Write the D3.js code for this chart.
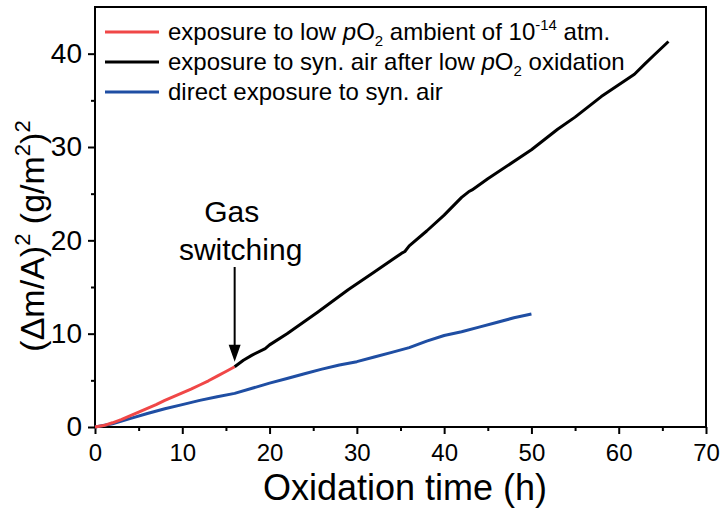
<!DOCTYPE html>
<html>
<head>
<meta charset="utf-8">
<script src="https://cdn.jsdelivr.net/npm/d3@7"></script>
<style>
  body { margin: 0; background: #fff; }
  svg { font-family: "Liberation Sans", Arial, sans-serif; }
</style>
</head>
<body>
<div id="chart"></div>
<script>
// data
const redTime = [0, 1, 2, 3, 4, 5, 6, 7, 8, 9, 10, 11, 12, 13, 14, 15, 16];
const redMass = [0, 0.15, 0.45, 0.8, 1.2, 1.6, 2.0, 2.4, 2.85, 3.25, 3.65, 4.05, 4.5, 4.95, 5.45, 5.95, 6.45];

const blackTime = [16, 17, 18, 19.5, 20, 22, 25.5, 29, 32, 34, 35.1, 35.5, 36, 38, 40, 42, 42.8, 43.2, 45, 50, 53, 55, 58, 61.8, 63, 64, 65.7];
const blackMass = [6.45, 7.15, 7.7, 8.4, 8.8, 10.0, 12.3, 14.7, 16.6, 17.9, 18.6, 18.8, 19.4, 21.0, 22.7, 24.6, 25.2, 25.4, 26.6, 29.7, 31.9, 33.2, 35.4, 37.8, 38.9, 39.8, 41.3];

const blueTime = [0, 2, 4, 6, 8, 10, 12, 14, 16, 18, 20, 22, 24, 26, 28, 30, 32, 34, 36, 38, 40, 42, 44, 46, 48, 50];
const blueMass = [0, 0.35, 0.9, 1.45, 1.95, 2.4, 2.85, 3.25, 3.6, 4.15, 4.7, 5.2, 5.7, 6.2, 6.65, 7.0, 7.5, 8.0, 8.5, 9.2, 9.8, 10.2, 10.7, 11.2, 11.7, 12.1];

const xTicks = [0, 10, 20, 30, 40, 50, 60, 70];
const yTicks = [0, 10, 20, 30, 40];

const svgWidth = 722, svgHeight = 512;
const margin = { top: 7, right: 16, bottom: 85, left: 95 };
const width = svgWidth - margin.left - margin.right;
const height = svgHeight - margin.top - margin.bottom;

const svg = d3.select("#chart").append("svg")
  .attr("width", svgWidth)
  .attr("height", svgHeight);

const g = svg.append("g")
  .attr("transform", "translate(" + margin.left + "," + margin.top + ")");

const x = d3.scaleLinear().domain([0, 70]).range([0, width]);
const y = d3.scaleLinear().domain([0, 45]).range([height, 0]);

//////////
// AXES //
//////////

// minor ticks first
g.append("g")
  .attr("transform", "translate(0," + height + ")")
  .call(d3.axisBottom(x).tickValues(d3.range(5, 70, 10)).tickSize(4).tickFormat(""))
  .call(a => a.select(".domain").remove())
  .selectAll("line").attr("stroke-width", 2);

g.append("g")
  .call(d3.axisLeft(y).tickValues(d3.range(5, 45, 10)).tickSize(4).tickFormat(""))
  .call(a => a.select(".domain").remove())
  .selectAll("line").attr("stroke-width", 2);

const xAxis = g.append("g")
  .attr("transform", "translate(0," + height + ")")
  .call(d3.axisBottom(x).tickValues(xTicks).tickSize(7).tickPadding(10));
xAxis.select(".domain").remove();
xAxis.selectAll("line").attr("stroke-width", 2);
xAxis.selectAll("text").attr("font-size", 24).attr("fill", "#000")
  .style("font-family", "Liberation Sans, Arial, sans-serif");

const yAxis = g.append("g")
  .call(d3.axisLeft(y).tickValues(yTicks).tickSize(7).tickPadding(6));
yAxis.select(".domain").remove();
yAxis.selectAll("line").attr("stroke-width", 2);
yAxis.selectAll("text").attr("font-size", 28).attr("fill", "#000")
  .style("font-family", "Liberation Sans, Arial, sans-serif");

// frame
g.append("rect")
  .attr("width", width)
  .attr("height", height)
  .attr("fill", "none")
  .attr("stroke", "#000")
  .attr("stroke-width", 2);

// axis titles
svg.append("text")
  .attr("x", 263)
  .attr("y", 500)
  .attr("font-size", 36)
  .text("Oxidation time (h)");

const yl = svg.append("text")
  .attr("transform", "translate(44,236) rotate(-90)")
  .attr("text-anchor", "middle")
  .attr("font-size", 34);
yl.append("tspan").text("(\u0394m/A)");
yl.append("tspan").attr("font-size", 22).attr("dy", -14).text("2");
yl.append("tspan").attr("dy", 14).text(" (g/m");
yl.append("tspan").attr("font-size", 22).attr("dy", -14).text("2");
yl.append("tspan").attr("dy", 14).text(")");
yl.append("tspan").attr("font-size", 22).attr("dy", -14).text("2");

///////////
// LINES //
///////////

const line = d3.line()
  .x(d => x(d[0]))
  .y(d => y(d[1]));

const series = [
  { time: blueTime, mass: blueMass, color: "#1f4ea3" },
  { time: redTime, mass: redMass, color: "#f04747" },
  { time: blackTime, mass: blackMass, color: "#000" }
];

series.forEach(s => {
  g.append("path")
    .datum(s.time.map((t, i) => [t, s.mass[i]]))
    .attr("fill", "none")
    .attr("stroke", s.color)
    .attr("stroke-width", 3)
    .attr("stroke-linejoin", "round")
    .attr("d", line);
});

////////////////
// ANNOTATION //
////////////////

const sx = x(redTime[redTime.length - 1]);
const sy = y(redMass[redMass.length - 1]);

g.append("text")
  .attr("x", sx - 3)
  .attr("y", 215)
  .attr("text-anchor", "middle")
  .attr("font-size", 30)
  .text("Gas");
g.append("text")
  .attr("x", sx + 6)
  .attr("y", 253)
  .attr("text-anchor", "middle")
  .attr("font-size", 30)
  .text("switching");

g.append("line")
  .attr("x1", sx).attr("x2", sx)
  .attr("y1", 260).attr("y2", sy - 20)
  .attr("stroke", "#000")
  .attr("stroke-width", 2);
g.append("path")
  .attr("d", "M" + (sx - 6) + "," + (sy - 22) + "L" + (sx + 6) + "," + (sy - 22) + "L" + sx + "," + (sy - 5) + "Z")
  .attr("fill", "#000");

////////////
// LEGEND //
////////////

const legend = g.append("g").attr("transform", "translate(10,0)");
const rows = [
  { color: "#f04747", parts: [["exposure to low "], ["p", "i"], ["O"], ["2", "sub"], [" ambient of 10"], ["-14", "sup"], [" atm."]] },
  { color: "#000", parts: [["exposure to syn. air after low "], ["p", "i"], ["O"], ["2", "sub"], [" oxidation"]] },
  { color: "#1f4ea3", parts: [["direct exposure to syn. air"]] }
];

rows.forEach((r, i) => {
  const ry = 25 + i * 30;
  legend.append("line")
    .attr("x1", 0).attr("x2", 54)
    .attr("y1", ry).attr("y2", ry)
    .attr("stroke", r.color)
    .attr("stroke-width", 3);
  const t = legend.append("text")
    .attr("x", 63)
    .attr("y", ry + 8)
    .attr("font-size", 24);
  let shift = 0;
  r.parts.forEach(p => {
    const ts = t.append("tspan").text(p[0]);
    let dy = 0;
    if (p[1] === "i") ts.attr("font-style", "italic");
    if (p[1] === "sub") { ts.attr("font-size", 15); dy = 6; }
    if (p[1] === "sup") { ts.attr("font-size", 15); dy = -10; }
    if (dy - shift !== 0) ts.attr("dy", dy - shift);
    shift = dy;
  });
});
</script>
</body>
</html>
